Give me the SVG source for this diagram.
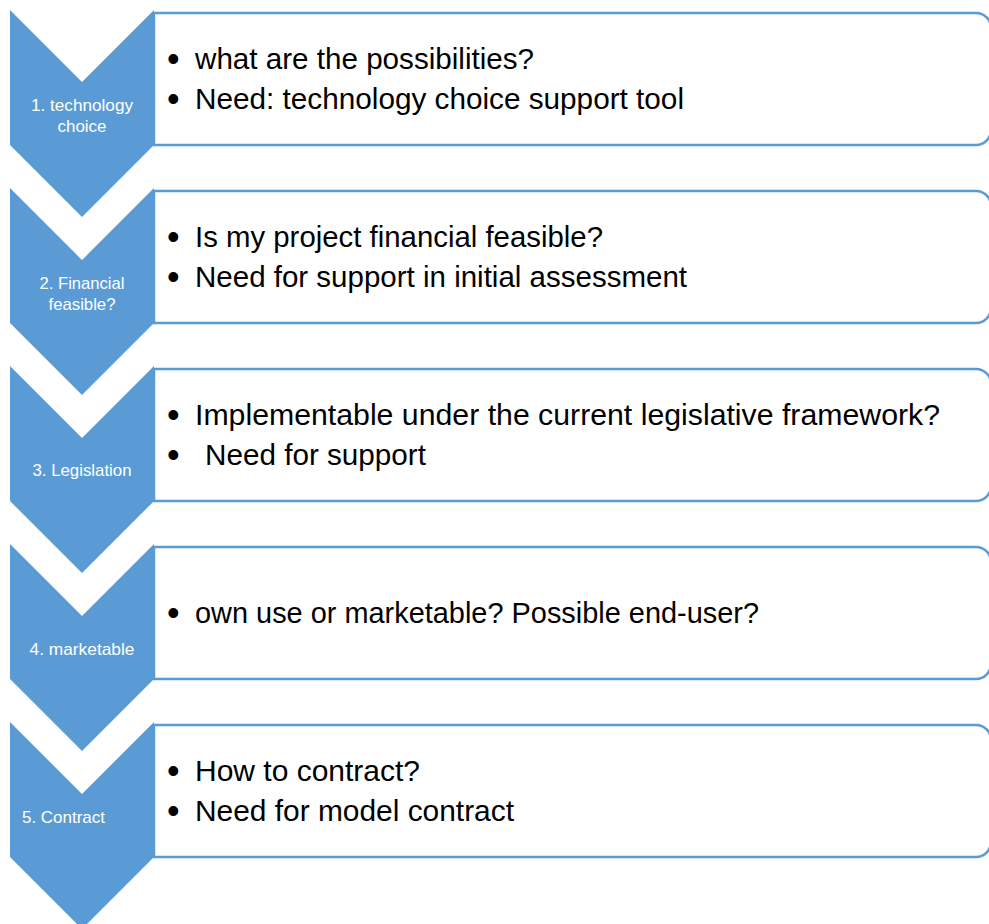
<svg xmlns="http://www.w3.org/2000/svg" width="989" height="924" viewBox="0 0 989 924">
  <style>
    .chev { fill: #5B9BD5; }
    .box { fill: #FFFFFF; stroke: #5B9BD5; stroke-width: 2.5; }
    .lbl { font-family: "Liberation Sans", Arial, sans-serif; font-size: 17px; fill: #FFFFFF; text-anchor: middle; }
    .lbl-l { font-family: "Liberation Sans", Arial, sans-serif; font-size: 17px; fill: #FFFFFF; }
    .txt { font-family: "Liberation Sans", Arial, sans-serif; font-size: 29.5px; fill: #000000; }
    .bul { font-family: "Liberation Sans", Arial, sans-serif; font-size: 36px; fill: #000000; }
  </style>
  <rect width="989" height="924" fill="#FFFFFF"/>

  <!-- Step 1 -->
  <g id="box1">
    <path class="box" d="M154,13 H976 A15,15 0 0 1 991,28 V130 A15,15 0 0 1 976,145 H154 Z"/>
    <text class="bul" x="167" y="71">•</text>
    <text class="txt" x="195" y="69" textLength="339" lengthAdjust="spacingAndGlyphs">what are the possibilities?</text>
    <text class="bul" x="167" y="111">•</text>
    <text class="txt" x="195" y="109" textLength="489" lengthAdjust="spacingAndGlyphs">Need: technology choice support tool</text>
  </g>
  <g id="chevron1">
    <path class="chev" d="M10,10 L82,82 L154,10 L154,145 L82,217 L10,145 Z"/>
    <text class="lbl" x="82" y="111" textLength="102" lengthAdjust="spacingAndGlyphs">1. technology</text>
    <text class="lbl" x="82" y="132" textLength="49" lengthAdjust="spacingAndGlyphs">choice</text>
  </g>

  <!-- Step 2 -->
  <g id="box2">
    <path class="box" d="M154,191 H976 A15,15 0 0 1 991,206 V308 A15,15 0 0 1 976,323 H154 Z"/>
    <text class="bul" x="167" y="249">•</text>
    <text class="txt" x="195" y="247" textLength="408" lengthAdjust="spacingAndGlyphs">Is my project financial feasible?</text>
    <text class="bul" x="167" y="289">•</text>
    <text class="txt" x="195" y="287" textLength="492" lengthAdjust="spacingAndGlyphs">Need for support in initial assessment</text>
  </g>
  <g id="chevron2">
    <path class="chev" d="M10,188 L82,260 L154,188 L154,323 L82,395 L10,323 Z"/>
    <text class="lbl" x="82" y="289" textLength="85" lengthAdjust="spacingAndGlyphs">2. Financial</text>
    <text class="lbl" x="82" y="310" textLength="67" lengthAdjust="spacingAndGlyphs">feasible?</text>
  </g>

  <!-- Step 3 -->
  <g id="box3">
    <path class="box" d="M154,369 H976 A15,15 0 0 1 991,384 V486 A15,15 0 0 1 976,501 H154 Z"/>
    <text class="bul" x="167" y="427">•</text>
    <text class="txt" x="195" y="425" textLength="745" lengthAdjust="spacingAndGlyphs">Implementable under the current legislative framework?</text>
    <text class="bul" x="167" y="467">•</text>
    <text class="txt" x="205" y="465" textLength="221" lengthAdjust="spacingAndGlyphs">Need for support</text>
  </g>
  <g id="chevron3">
    <path class="chev" d="M10,366 L82,438 L154,366 L154,501 L82,573 L10,501 Z"/>
    <text class="lbl" x="82" y="476" textLength="99" lengthAdjust="spacingAndGlyphs">3. Legislation</text>
  </g>

  <!-- Step 4 -->
  <g id="box4">
    <path class="box" d="M154,547 H976 A15,15 0 0 1 991,562 V664 A15,15 0 0 1 976,679 H154 Z"/>
    <text class="bul" x="167" y="625">•</text>
    <text class="txt" x="195" y="623" textLength="564" lengthAdjust="spacingAndGlyphs">own use or marketable? Possible end-user?</text>
  </g>
  <g id="chevron4">
    <path class="chev" d="M10,544 L82,616 L154,544 L154,679 L82,751 L10,679 Z"/>
    <text class="lbl" x="82" y="655" textLength="105" lengthAdjust="spacingAndGlyphs">4. marketable</text>
  </g>

  <!-- Step 5 -->
  <g id="box5">
    <path class="box" d="M154,725 H976 A15,15 0 0 1 991,740 V842 A15,15 0 0 1 976,857 H154 Z"/>
    <text class="bul" x="167" y="783">•</text>
    <text class="txt" x="195" y="781" textLength="225" lengthAdjust="spacingAndGlyphs">How to contract?</text>
    <text class="bul" x="167" y="823">•</text>
    <text class="txt" x="195" y="821" textLength="319" lengthAdjust="spacingAndGlyphs">Need for model contract</text>
  </g>
  <g id="chevron5">
    <path class="chev" d="M10,722 L82,794 L154,722 L154,857 L82,929 L10,857 Z"/>
    <text class="lbl-l" x="22" y="823" textLength="83" lengthAdjust="spacingAndGlyphs">5. Contract</text>
  </g>

  <g id="connectors"></g>
</svg>
